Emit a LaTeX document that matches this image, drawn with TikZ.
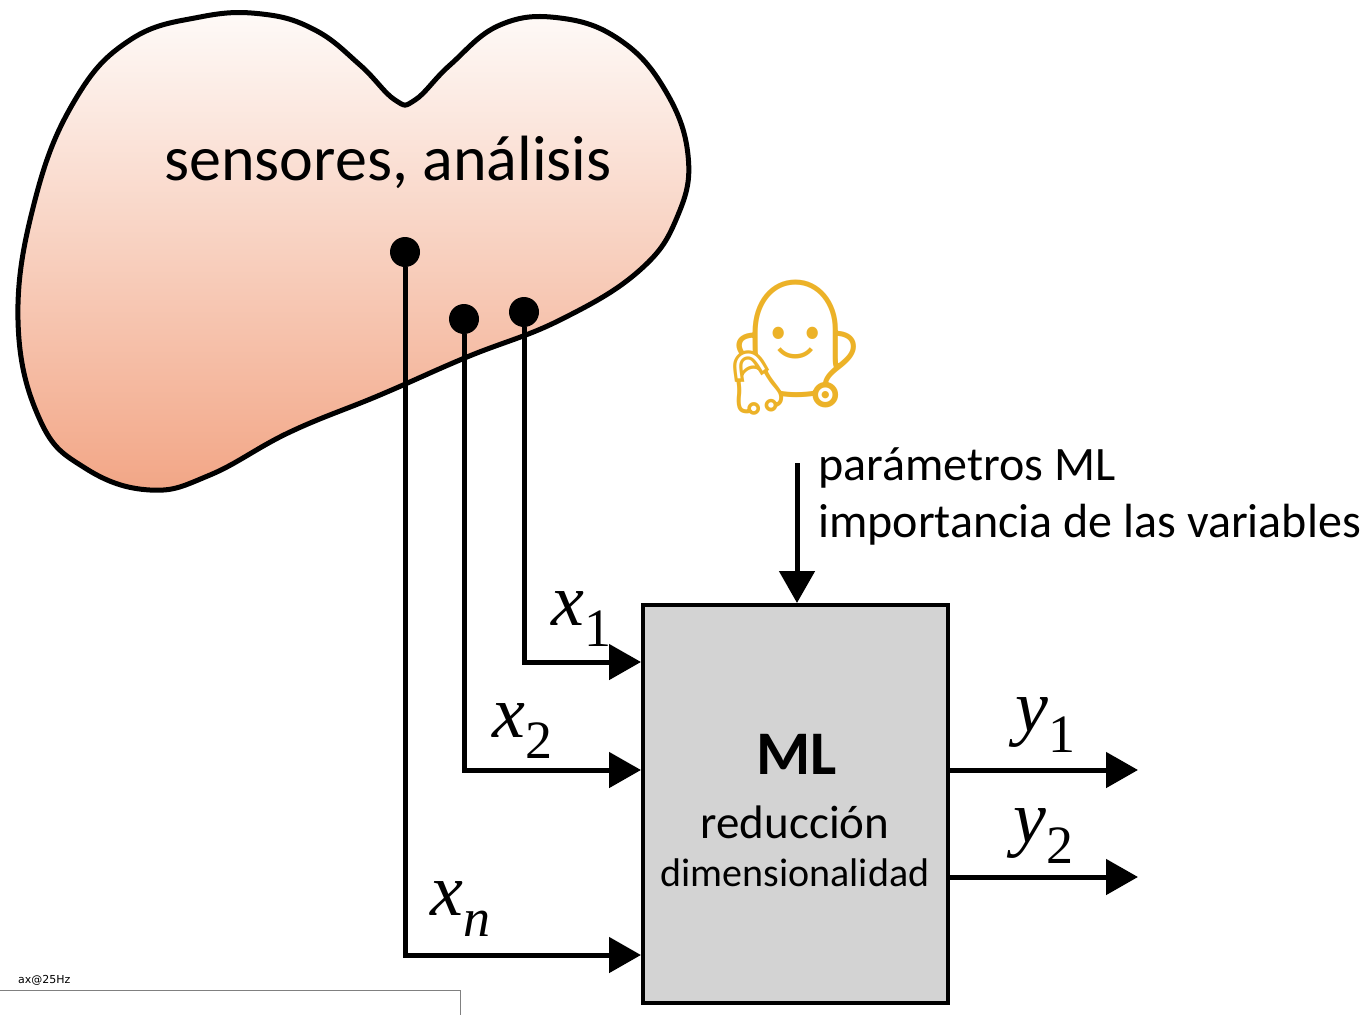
\documentclass[tikz,border=0pt]{standalone}
\usepackage{fontspec}
\setmainfont{Carlito}
\newfontfamily\emojifont{Noto Emoji}
\newfontfamily\tagfont{DejaVu Sans}
\newfontfamily\labfont{Liberation Serif}
\usetikzlibrary{arrows.meta,positioning}

\definecolor{organtop}{RGB}{254,250,248}
\definecolor{organbot}{RGB}{242,166,134}
\definecolor{boxgray}{RGB}{211,211,211}
\definecolor{doctor}{RGB}{236,178,40}

% variable with subscript, e.g. \varlab{x}{1}
\newcommand\varlab[2]{{\itshape #1}\raisebox{-21pt}{\fontsize{54}{54}\selectfont #2}}

\tikzset{
  sig/.style={line width=5pt, -{Triangle[length=32pt,width=35pt]}},
  probe/.style={circle, fill=black, inner sep=0pt, minimum size=30pt},
  varname/.style={anchor=base west, inner sep=0pt,
    font=\labfont\fontsize{74}{80}\selectfont},
}

\begin{document}
\begin{tikzpicture}[x=1pt,y=-1pt]
  \useasboundingbox (0,0) rectangle (1367,1015);

  % Organ
  \draw[line width=5pt, top color=organtop, bottom color=organbot]
    plot[smooth cycle, tension=0.7] coordinates {
      (18,320) (35,200) (75,100) (130,40) (200,17) (262,14) (315,30)
      (360,65) (395,100) (415,100) (450,65) (500,25) (560,18) (620,40)
      (665,90) (688,155) (678,215) (640,270) (560,320) (467,357)
      (380,395) (290,432) (210,475) (150,490) (85,468) (40,420)};
  \node[font=\fontsize{64}{70}\selectfont] (organ) at (388,162) {sensores, análisis};

  % Probes
  \node[probe] (pn) at (405,252) {};
  \node[probe] (p2) at (464,319) {};
  \node[probe] (p1) at (524,312) {};

  % ML block
  \node[draw, line width=4pt, fill=boxgray, minimum width=305pt,
        minimum height=398pt, inner sep=0pt] (ml) at (795,804) {};
  \node[font=\fontsize{62}{70}\selectfont\bfseries] (mltitle) at (797,754) {ML};
  \node[font=\fontsize{47}{55}\selectfont] (mlsub) at (795,822) {reducción};
  \node[font=\fontsize{40}{45}\selectfont] (mldim) at (795,873) {dimensionalidad};

  % Inputs
  \coordinate (in1) at (641,662);
  \coordinate (in2) at (641,770);
  \coordinate (inn) at (641,955);
  \draw[sig] (p1) |- (in1);
  \draw[sig] (p2) |- (in2);
  \draw[sig] (pn) |- (inn);
  \node[varname] (lx1) at (551,625) {\varlab{x}{1}};
  \node[varname] (lx2) at (492,737) {\varlab{x}{2}};
  \node[varname] (lxn) at (430,915) {\varlab{x}{\itshape n}};

  % Outputs
  \foreach \i/\y in {1/770,2/877} {
    \coordinate (out\i) at (1138,\y);
    \draw[sig] (ml.east |- out\i) -- (out\i);
  }
  \node[varname] (ly1) at (1015,731) {\varlab{y}{1}};
  \node[varname] (ly2) at (1013,842) {\varlab{y}{2}};

  % Expert and parameters
  \node[font=\emojifont\fontsize{130}{130}\selectfont, text=doctor] (expert) at (795,348) {👩‍⚕️};
  \node[anchor=west, align=left, inner sep=0pt,
        font=\fontsize{48}{57}\selectfont] (params) at (818,496)
    {parámetros ML\\importancia de las variables};
  \coordinate (par) at (797,463);
  \draw[sig] (par) -- (ml.north -| par);

  % Plot frame underneath
  \node[anchor=west, inner sep=0pt, font=\tagfont\fontsize{11}{12}\selectfont] (tag) at (18,980) {ax@25Hz};
  \draw[gray, line width=1pt] (0,990) -- (460,990) -- (460,1015);
\end{tikzpicture}
\end{document}
